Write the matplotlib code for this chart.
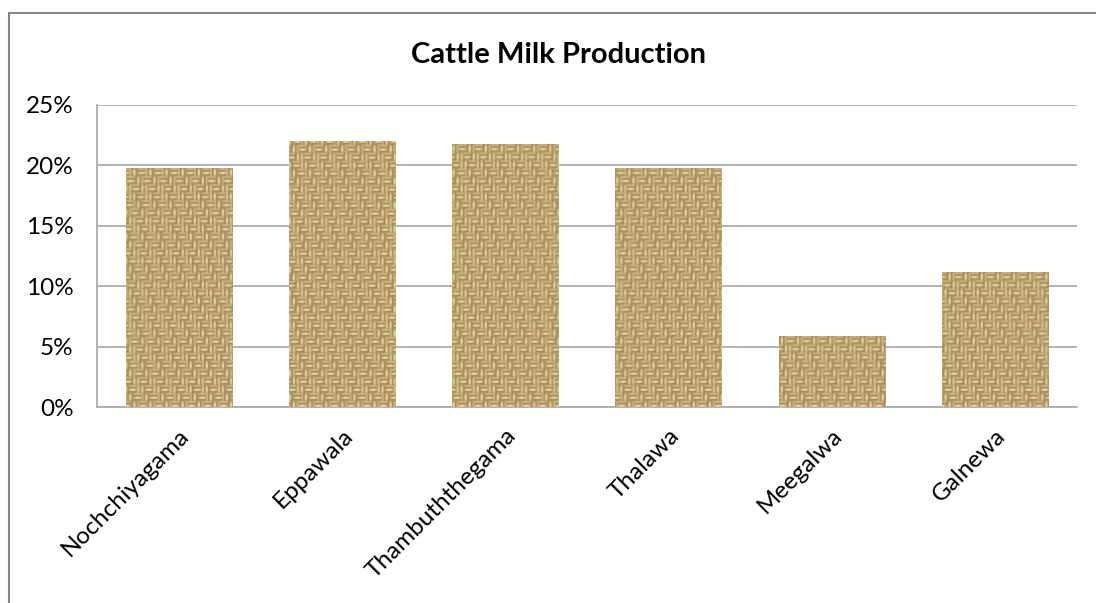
import numpy as np
import matplotlib
matplotlib.use("Agg")
import matplotlib.pyplot as plt
from matplotlib.patches import Rectangle
from matplotlib.ticker import PercentFormatter

# Datos
regions = ["Nochchiyagama", "Eppawala", "Thambuththegama", "Thalawa", "Meegalwa", "Galnewa"]
share = [19.8, 22.0, 21.8, 19.8, 5.9, 11.2]
y_ticks = [0, 5, 10, 15, 20, 25]

plt.rcParams["font.family"] = ["Lato", "DejaVu Sans"]

fig = plt.figure(figsize=(10.96, 6.03), dpi=100)
ax = fig.add_axes([0.0885, 0.325, 0.894, 0.501])

x = np.arange(len(regions))
bars = ax.bar(x, share, width=0.65, color="#CDAE72", zorder=2)

# textura tipo arpillera (tejido), recortada a cada barra
h, w = 302, 980
yy, xx = np.mgrid[0:h, 0:w].astype(float)
blk = 8
xs = xx + 3 * (yy // blk)
bi = (yy // blk).astype(int)
bj = (xs // blk).astype(int)
horiz = ((bi + bj) % 2) == 0
prof_h = 0.5 + 0.5 * np.cos(2 * np.pi * yy / 4.0)
prof_v = 0.5 + 0.5 * np.cos(2 * np.pi * xx / 4.0)
t = np.where(horiz, prof_h, prof_v)
# sombra suave en bordes de bloque
by = np.minimum(yy % blk, blk - 1 - yy % blk)
bx = np.minimum(xs % blk, blk - 1 - xs % blk)
shade = np.clip(np.minimum(bx, by) / 2.0, 0, 1)
t = 0.2 + 0.8 * t * (0.55 + 0.45 * shade)
light = np.array([250, 234, 184]) / 255
dark = np.array([135, 102, 52]) / 255
tex = dark[None, None, :] + (light - dark)[None, None, :] * t[:, :, None]
# suavizado leve
tex = (tex + np.roll(tex, 1, 0) + np.roll(tex, 1, 1)) / 3.0

for b in bars:
    im = ax.imshow(tex, extent=(-0.5, 5.5, 0, 25), aspect="auto",
                   interpolation="bilinear", zorder=3)
    im.set_clip_path(b)

ax.set_xlim(-0.5, 5.5)
ax.set_ylim(0, 25)
ax.set_yticks(y_ticks)
ax.yaxis.set_major_formatter(PercentFormatter(decimals=0))
ax.yaxis.grid(True, color="#A6A6A6", linewidth=1.2, zorder=0)
ax.set_axisbelow(True)

ax.set_xticks(x)
ax.set_xticklabels(regions, rotation=45, ha="right", rotation_mode="anchor")
ax.tick_params(axis="both", length=0, labelsize=17.5, colors="black")
ax.tick_params(axis="y", pad=17)
ax.tick_params(axis="x", pad=13)

for side in ["top", "right"]:
    ax.spines[side].set_visible(False)
for side in ["left", "bottom"]:
    ax.spines[side].set_color("#A6A6A6")
    ax.spines[side].set_linewidth(1.2)

fig.text(0.51, 0.909, "Cattle Milk Production", ha="center", va="center",
         fontsize=21, fontweight="bold")

# borde del gráfico
fig.patches.append(Rectangle((8.5 / 1096, -0.05), 1.2, 1 - 12.5 / 603 + 0.05,
                             transform=fig.transFigure, fill=False,
                             edgecolor="#868686", linewidth=1.5))

fig.savefig("out.png", dpi=100)
